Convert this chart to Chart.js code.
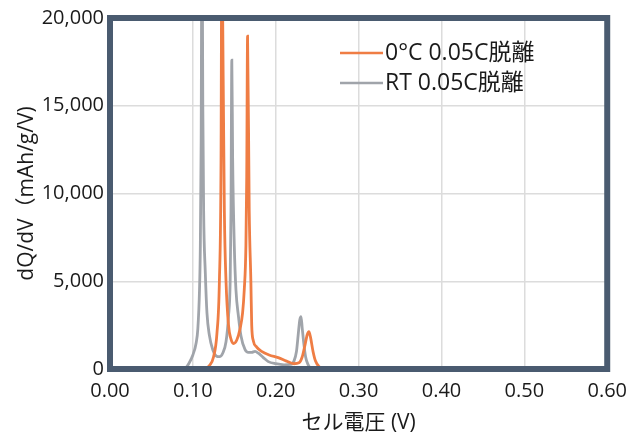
<!DOCTYPE html>
<html>
<head>
<meta charset="utf-8">
<script src="https://cdn.jsdelivr.net/npm/chart.js@4/dist/chart.umd.min.js"></script>
<style>
  html, body { margin: 0; padding: 0; background: #ffffff; }
  #wrap { width: 637px; height: 439px; }
</style>
</head>
<body>
<div id="wrap"><canvas id="dqdv" width="637" height="439"></canvas></div>
<script>
// dQ/dV curves on delithiation, 0.05C (cell voltage in V)
const lowTempLabel = '0°C 0.05C脱離';
const lowTempVolt = [0.115, 0.120, 0.125, 0.129, 0.132, 0.134, 0.135, 0.136, 0.138, 0.140, 0.143,
  0.146, 0.149, 0.153, 0.157, 0.160, 0.162, 0.164, 0.165, 0.166, 0.168, 0.170, 0.171, 0.173, 0.177,
  0.183, 0.192, 0.203, 0.213, 0.222, 0.228, 0.232, 0.235, 0.238, 0.240, 0.242, 0.245, 0.248,
  0.252, 0.257, 0.266, 0.60];
const lowTempValue = [0, 200, 700, 2000, 5000, 12000, 26000, 20000, 9000, 5000, 2500,
  1700, 1450, 1650, 2300, 3200, 4500, 7000, 11000, 18960, 9000, 5000, 2500, 1600, 1250,
  1000, 800, 650, 450, 300, 350, 700, 1300, 1950, 2130, 1800, 1000, 450,
  150, 40, 0, 0];

const rtLabel = 'RT 0.05C脱離';
const rtVolt = [0.085, 0.092, 0.095, 0.100, 0.104, 0.106, 0.108, 0.109, 0.110, 0.111, 0.112,
  0.113, 0.115, 0.117, 0.120, 0.124, 0.128, 0.132, 0.136, 0.140, 0.143, 0.145, 0.146, 0.147,
  0.148, 0.150, 0.152, 0.155, 0.158, 0.163, 0.167, 0.171, 0.175, 0.179, 0.185, 0.191, 0.200,
  0.210, 0.218, 0.222, 0.225, 0.227, 0.229, 0.2305, 0.232, 0.234, 0.236, 0.239, 0.242, 0.248, 0.60];
const rtValue = [0, 100, 300, 800, 1500, 2300, 4500, 7000, 13000, 26000, 15000,
  9000, 5500, 3200, 1900, 1100, 750, 700, 900, 1550, 3000, 5000, 9000, 17600,
  12000, 7000, 4500, 3000, 1900, 1100, 950, 950, 1000, 900, 650, 420, 300,
  240, 260, 450, 1000, 1900, 2800, 2990, 2300, 1400, 700, 250, 60, 0, 0];

const voltTicks = [0, 0.1, 0.2, 0.3, 0.4, 0.5, 0.6];
const dqdvTicks = [0, 5000, 10000, 15000, 20000];

const FONT = "'Open Sans', 'Noto Sans CJK JP', sans-serif";
const ORANGE = '#ef7d44';
const GREY = '#a0a4aa';
const FRAME = '#4a5b70';

const toPoints = (xs, ys) => xs.map((x, i) => ({ x: x, y: ys[i] }));

// thick frame around the plot area, drawn over the curves
const framePlugin = {
  id: 'frame',
  afterDatasetsDraw(chart) {
    const { ctx, chartArea: a } = chart;
    ctx.save();
    ctx.strokeStyle = FRAME;
    ctx.lineWidth = 6;
    ctx.strokeRect(a.left, a.top, a.right - a.left, a.bottom - a.top);
    ctx.restore();
  }
};

// legend sits inside the plot, upper right
const insideLegend = {
  id: 'insideLegend',
  afterDraw(chart) {
    const { ctx, chartArea: a } = chart;
    ctx.save();
    ctx.font = '23px ' + FONT;
    ctx.textBaseline = 'middle';
    ctx.fillStyle = '#1a1a1a';
    chart.data.datasets.forEach((ds, i) => {
      const y = a.top + 35 + i * 30;
      const x0 = a.left + 230;
      ctx.strokeStyle = ds.borderColor;
      ctx.lineWidth = 2.5;
      ctx.beginPath();
      ctx.moveTo(x0, y);
      ctx.lineTo(x0 + 43, y);
      ctx.stroke();
      ctx.fillText(ds.label, x0 + 45, y);
    });
    ctx.restore();
  }
};

new Chart(document.getElementById('dqdv'), {
  type: 'line',
  data: {
    datasets: [
      {
        label: lowTempLabel,
        data: toPoints(lowTempVolt, lowTempValue),
        borderColor: ORANGE,
        borderWidth: 2.8,
        pointRadius: 0,
        cubicInterpolationMode: 'monotone'
      },
      {
        label: rtLabel,
        data: toPoints(rtVolt, rtValue),
        borderColor: GREY,
        borderWidth: 2.8,
        pointRadius: 0,
        cubicInterpolationMode: 'monotone'
      }
    ]
  },
  options: {
    responsive: false,
    animation: false,
    layout: { padding: { left: 0, top: 18, right: 25, bottom: 0 } },
    plugins: {
      legend: { display: false },
      tooltip: { enabled: false }
    },
    scales: {
      x: {
        type: 'linear',
        min: 0,
        max: 0.6,
        afterBuildTicks: (axis) => { axis.ticks = voltTicks.map(v => ({ value: v })); },
        afterFit: (axis) => { axis.height = 70; },
        ticks: {
          padding: 10,
          color: '#1a1a1a',
          font: { family: FONT, size: 20 },
          callback: (v) => Number(v).toFixed(2)
        },
        grid: { color: '#dcdcdc', lineWidth: 1.5, drawTicks: false },
        border: { display: false },
        title: {
          display: true,
          text: 'セル電圧 (V)',
          color: '#1a1a1a',
          font: { family: FONT, size: 21 },
          padding: { top: 0, bottom: 3 }
        }
      },
      y: {
        min: 0,
        max: 20000,
        afterBuildTicks: (axis) => { axis.ticks = dqdvTicks.map(v => ({ value: v })); },
        afterFit: (axis) => { axis.width = 110; },
        ticks: {
          padding: 6,
          color: '#1a1a1a',
          font: { family: FONT, size: 20 },
          callback: (v) => Number(v).toLocaleString('en-US')
        },
        grid: { color: '#dcdcdc', lineWidth: 1.5, drawTicks: false },
        border: { display: false },
        title: {
          display: true,
          text: 'dQ/dV（mAh/g/V)',
          color: '#1a1a1a',
          font: { family: FONT, size: 21 },
          padding: { top: 14, bottom: 0 }
        }
      }
    }
  },
  plugins: [framePlugin, insideLegend]
});
</script>
</body>
</html>
